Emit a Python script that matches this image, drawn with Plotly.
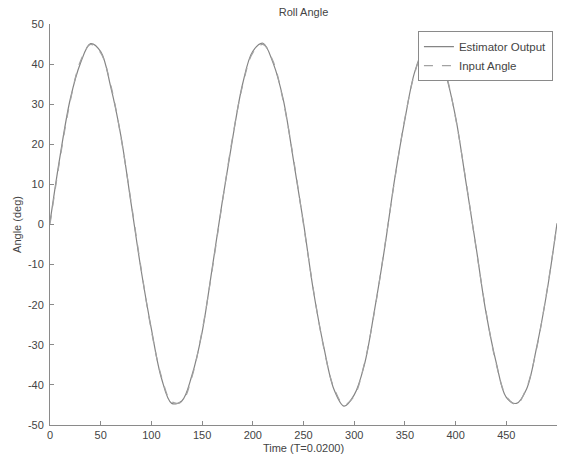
import plotly.graph_objects as go

# Sample index (T = 0.0200 s per sample)
time_samples = [0, 10, 20, 30, 40, 50, 60, 70, 80, 90,
                100, 110, 120, 130, 140, 150, 160, 170, 180, 190,
                200, 210, 220, 230, 240, 250, 260, 270, 280, 290,
                300, 310, 320, 330, 340, 350, 360, 370, 380, 390,
                400, 410, 420, 430, 440, 450, 460, 470, 480, 490, 500]

# Commanded roll angle (deg)
input_angle = [0.0, 16.6, 30.8, 40.7, 44.9, 42.8, 34.7, 21.7, 5.6, -11.2,
               -26.5, -38.0, -44.2, -44.2, -38.0, -26.5, -11.2, 5.6, 21.7, 34.7,
               42.8, 44.9, 40.7, 30.8, 16.6, 0.0, -16.6, -30.8, -40.7, -44.9,
               -42.8, -34.7, -21.7, -5.6, 11.2, 26.5, 38.0, 44.2, 44.2, 38.0,
               26.5, 11.2, -5.6, -21.7, -34.7, -42.8, -44.9, -40.7, -30.8, -16.6, 0.0]

# Roll angle reported by the estimator (deg)
estimator_output = [0.6, 17.2, 31.3, 40.2, 45.1, 43.1, 34.2, 22.0, 5.2, -11.6,
                    -26.1, -38.4, -44.6, -44.0, -37.6, -26.9, -10.8, 5.9, 21.3, 35.1,
                    43.2, 45.2, 40.3, 31.2, 16.2, 0.4, -16.9, -30.5, -41.1, -45.3,
                    -42.5, -35.0, -21.4, -5.9, 11.5, 26.2, 38.3, 44.0, 44.5, 37.7,
                    26.8, 10.9, -5.3, -22.0, -34.4, -43.1, -44.6, -41.0, -30.5, -16.9, 0.3]

x_ticks = [0, 50, 100, 150, 200, 250, 300, 350, 400, 450, 500]
y_ticks = [-50, -40, -30, -20, -10, 0, 10, 20, 30, 40, 50]

font_family = "Liberation Sans, Arial, sans-serif"
text_color = "#444444"
axis_color = "#8a8a8a"

fig = go.Figure()
fig.add_trace(go.Scatter(
    x=time_samples, y=estimator_output, name="Estimator Output",
    mode="lines", line=dict(color="#858585", width=1.2, shape="spline"),
))
fig.add_trace(go.Scatter(
    x=time_samples, y=input_angle, name="Input Angle",
    mode="lines", line=dict(color="#a2a2a2", width=1.2, dash="dash", shape="spline"),
))

fig.update_layout(
    width=566, height=463,
    margin=dict(l=50, r=9, t=24, b=38),
    paper_bgcolor="white", plot_bgcolor="white",
    font=dict(family=font_family, size=11, color=text_color),
    title=dict(text="Roll Angle", x=(50 + 507 / 2) / 566, xanchor="center",
               y=1 - 12 / 463, yanchor="middle", yref="container",
               font=dict(size=11, color=text_color)),
    showlegend=True,
    legend=dict(
        x=0.992, xanchor="right", y=0.982, yanchor="top",
        bgcolor="white", bordercolor="#8a8a8a", borderwidth=1,
        font=dict(size=11.5, color=text_color),
        tracegroupgap=0, itemwidth=30,
    ),
)

fig.update_xaxes(
    range=[0, 500], tickvals=x_ticks, ticktext=[str(v) for v in x_ticks],
    showgrid=False, zeroline=False, showline=True, linecolor=axis_color, linewidth=1,
    ticks="inside", ticklen=4, tickcolor=axis_color,
    title=dict(text="Time (T=0.0200)", standoff=4, font=dict(size=11, color=text_color)),
)
fig.update_yaxes(
    range=[-50, 50], tickvals=y_ticks, ticktext=[str(v) for v in y_ticks],
    showgrid=False, zeroline=False, showline=True, linecolor=axis_color, linewidth=1,
    ticks="inside", ticklen=4, tickcolor=axis_color, ticklabelstandoff=3,
    title=dict(text="Angle (deg)", standoff=4, font=dict(size=11, color=text_color)),
)

fig.write_html("out.html")
